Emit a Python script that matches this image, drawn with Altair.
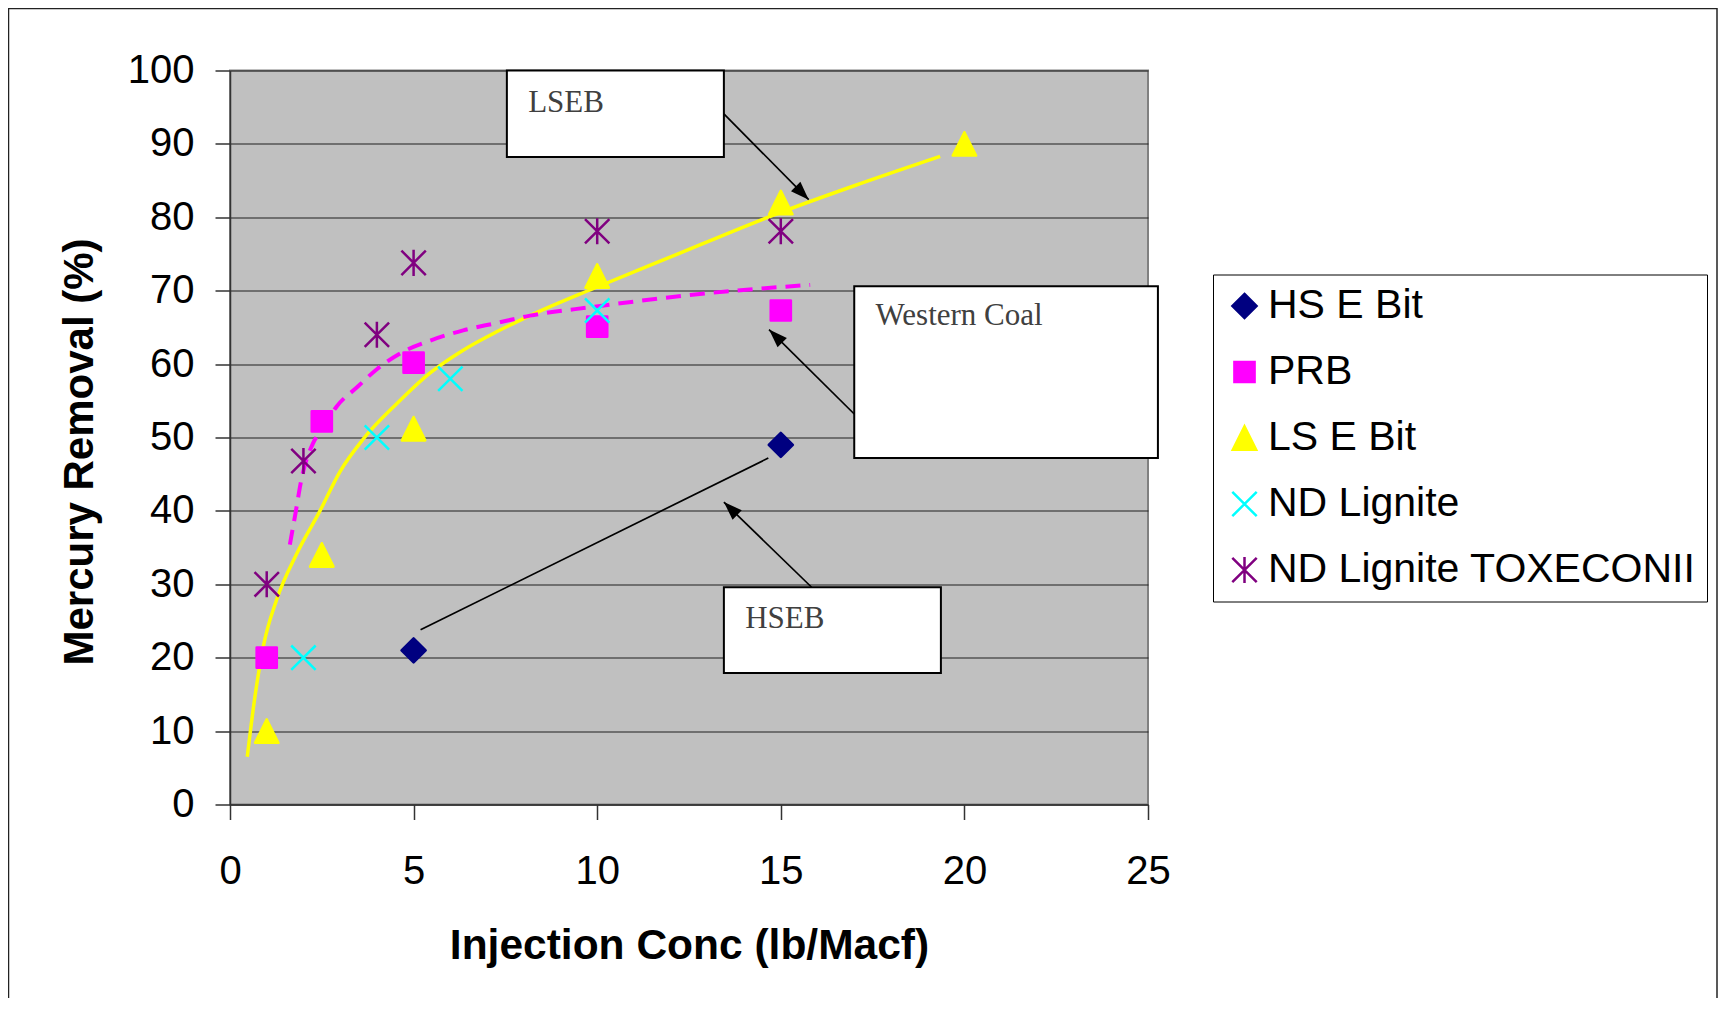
import math
import altair as alt
import pandas as pd

# ---------------- data ----------------
series_names = ["HS E Bit", "PRB", "LS E Bit", "ND Lignite", "ND Lignite TOXECONII"]
series_colors = ["#000080", "#FF00FF", "#FFFF00", "#00FFFF", "#800080"]

hs_x = [5, 15]
hs_y = [21, 49]
prb_x = [1, 2.5, 5, 10, 15]
prb_y = [20, 52.2, 60.2, 65.1, 67.3]
ls_x = [1, 2.5, 5, 10, 15, 20]
ls_y = [10, 34, 51.2, 72, 82, 90]
ndl_x = [2, 4, 6, 10]
ndl_y = [20, 50, 58, 67.3]
tox_x = [1, 2, 4, 5, 10, 15]
tox_y = [30, 46.8, 64, 73.8, 78.1, 78.1]

# trend lines
ls_trend_x = [0.47, 0.68, 0.91, 1.27, 1.82, 2.45, 3.0, 3.63, 4.54, 5.45, 6.35, 7.26, 8.17, 9.9, 12.0, 14.8, 17.0, 19.34]
ls_trend_y = [6.5, 14.7, 21.6, 27.9, 34.2, 40.0, 45.4, 49.8, 54.6, 58.8, 61.9, 64.4, 66.6, 70.3, 74.6, 80.3, 84.3, 88.3]
prb_trend_x = [1.63, 1.77, 1.95, 2.27, 2.5, 2.9, 3.45, 4.0, 4.72, 5.45, 6.35, 7.26, 8.17, 9.9, 12.5, 15.8]
prb_trend_y = [35.4, 39.3, 44.4, 49.3, 51.0, 54.2, 56.8, 59.3, 61.7, 63.2, 64.6, 65.6, 66.6, 67.8, 69.4, 70.8]

# annotation boxes (data coordinates)
box_labels = ["LSEB", "Western Coal", "HSEB"]
box_x1 = [7.54, 17.0, 13.45]
box_x2 = [13.45, 25.27, 19.36]
box_y1 = [88.2, 47.2, 17.9]
box_y2 = [100.0, 70.6, 29.6]
label_x = [8.12, 17.58, 14.03]
label_y = [94.3, 65.3, 24.0]

# arrows / connector lines (data coordinates)
arrow_x1 = [13.45, 17.0, 15.84, 5.19]
arrow_y1 = [94.1, 53.2, 29.6, 23.8]
arrow_x2 = [15.76, 14.68, 13.45, 14.66]
arrow_y2 = [82.4, 64.7, 41.2, 47.2]
arrow_head = [True, True, True, False]

# ---------------- layout ----------------
W, H = 918, 734
XMAX, YMAX = 25, 100
FONT = "Liberation Sans"
SERIF = "Liberation Serif"

paths = [
    "M0,-0.97L0.97,0L0,0.97L-0.97,0Z",                     # diamond
    "M-0.81,-0.81L0.81,-0.81L0.81,0.81L-0.81,0.81Z",       # square
    "M0,-0.94L0.94,0.94L-0.94,0.94Z",                      # triangle
    "M-0.98,-0.98L0.98,0.98M-0.98,0.98L0.98,-0.98",        # x
    "M-0.98,-0.98L0.98,0.98M-0.98,0.98L0.98,-0.98M0,-1.05L0,1.05",  # asterisk
]
fills = ["#000080", "#FF00FF", "#FFFF00", "transparent", "transparent"]

rows = []
for name, xs, ys in zip(series_names, [hs_x, prb_x, ls_x, ndl_x, tox_x], [hs_y, prb_y, ls_y, ndl_y, tox_y]):
    for a, b in zip(xs, ys):
        rows.append({"series": name, "x": a, "y": b})
pts = pd.DataFrame(rows)

ls_trend = pd.DataFrame({"x": ls_trend_x, "y": ls_trend_y})
prb_trend = pd.DataFrame({"x": prb_trend_x, "y": prb_trend_y})
boxes = pd.DataFrame({"x": box_x1, "x2": box_x2, "y": box_y1, "y2": box_y2})
labels = pd.DataFrame({"x": label_x, "y": label_y, "text": box_labels})
arrows = pd.DataFrame({"x": arrow_x1, "y": arrow_y1, "x2": arrow_x2, "y2": arrow_y2})

kx, ky = W / XMAX, H / YMAX
heads_rows = []
for a, b, c, d, h in zip(arrow_x1, arrow_y1, arrow_x2, arrow_y2, arrow_head):
    if h:
        dx = (c - a) * kx
        dy = -(d - b) * ky
        ang = math.degrees(math.atan2(dx, -dy)) % 360
        heads_rows.append({"x": c, "y": d, "ang": ang})
heads = pd.DataFrame(heads_rows)

xscale = alt.Scale(domain=[0, XMAX], nice=False, zero=False)
yscale = alt.Scale(domain=[0, YMAX], nice=False, zero=False)

xaxis = alt.Axis(
    values=[0, 5, 10, 15, 20, 25], title="Injection Conc (lb/Macf)",
    titleFont=FONT, titleFontSize=42.5, titleFontWeight="bold", titleColor="black",
    titleX=W / 2, titleY=153.5, titleBaseline="alphabetic", titleAlign="center",
    labelFont=FONT, labelFontSize=40, labelColor="black", labelPadding=32,
    labelFlush=False, labelOverlap=False,
    tickSize=15, tickColor="#333333", tickWidth=1.5,
    domainColor="#333333", domainWidth=1.5, grid=False,
)
yaxis = alt.Axis(
    values=list(range(0, 101, 10)), title="Mercury Removal (%)",
    titleFont=FONT, titleFontSize=42, titleFontWeight="bold", titleColor="black",
    titleAngle=270, titleX=-138, titleY=381, titleBaseline="alphabetic", titleAlign="center",
    labelFont=FONT, labelFontSize=40, labelColor="black", labelPadding=21,
    labelFlush=False, labelOverlap=False,
    tickSize=15, tickColor="#333333", tickWidth=1.5,
    domainColor="#333333", domainWidth=1.5,
    grid=True, gridColor="#1f1f1f", gridWidth=1.2,
)

def X(field="x"):
    return alt.X(f"{field}:Q", scale=xscale, axis=xaxis)

def Y(field="y"):
    return alt.Y(f"{field}:Q", scale=yscale, axis=yaxis)

legend = alt.Legend(
    title=None, orient="none", legendX=983, legendY=204,
    labelFont=FONT, labelFontSize=41, labelColor="black", labelLimit=0,
    symbolSize=620, symbolStrokeWidth=2.5, labelOffset=3,
    padding=11, rowPadding=24, strokeColor="black", fillColor="white",
)

ls_line = alt.Chart(ls_trend).mark_line(color="#FFFF00", strokeWidth=3.5, interpolate="monotone").encode(
    x=X(), y=Y())
prb_line = alt.Chart(prb_trend).mark_line(color="#FF00FF", strokeWidth=4, strokeDash=[15, 9],
                                          interpolate="monotone").encode(x=X(), y=Y())

points = alt.Chart(pts).mark_point(size=620, strokeWidth=2.5, opacity=1, strokeJoin="round").encode(
    x=X(), y=Y(),
    shape=alt.Shape("series:N", scale=alt.Scale(domain=series_names, range=paths), legend=legend),
    fill=alt.Fill("series:N", scale=alt.Scale(domain=series_names, range=fills), legend=legend),
    stroke=alt.Stroke("series:N", scale=alt.Scale(domain=series_names, range=series_colors), legend=legend),
)

box_layer = alt.Chart(boxes).mark_rect(fill="white", stroke="black", strokeWidth=2).encode(
    x=X(), x2="x2:Q", y=Y(), y2="y2:Q")
text_layer = alt.Chart(labels).mark_text(align="left", baseline="alphabetic", font=SERIF,
                                         fontSize=31, color="#404040").encode(
    x=X(), y=Y(), text="text:N")
arrow_layer = alt.Chart(arrows).mark_rule(color="black", strokeWidth=1.7).encode(
    x=X(), y=Y(), x2="x2:Q", y2="y2:Q")
head_layer = alt.Chart(heads).mark_point(
    shape="M0,0L-0.5,1.4L0.5,1.4Z", size=700, filled=True, color="black", opacity=1).encode(
    x=X(), y=Y(), angle=alt.Angle("ang:Q", scale=None))

one = pd.DataFrame({"k": [0]})
frame_top = alt.Chart(one).mark_rule(color="#222222", strokeWidth=1.5).encode(
    x=alt.value(-222), x2=alt.value(1487), y=alt.value(-62))
frame_left = alt.Chart(one).mark_rule(color="#222222", strokeWidth=1.5).encode(
    x=alt.value(-221.5), y=alt.value(-62.5), y2=alt.value(930))
frame_right = alt.Chart(one).mark_rule(color="#222222", strokeWidth=1.5).encode(
    x=alt.value(1487), y=alt.value(-62.5), y2=alt.value(930))

chart = alt.layer(
    box_layer, ls_line, prb_line, points, arrow_layer, head_layer, text_layer,
    frame_top, frame_left, frame_right,
).properties(
    width=W, height=H,
    autosize=alt.AutoSizeParams(type="none"),
    padding={"left": 222, "top": 62.5, "right": 570, "bottom": 193},
    background="white",
).configure_view(
    fill="#C0C0C0", stroke="#808080", strokeWidth=2,
)

chart.save("out.html", embed_options={"renderer": "svg", "actions": False})
